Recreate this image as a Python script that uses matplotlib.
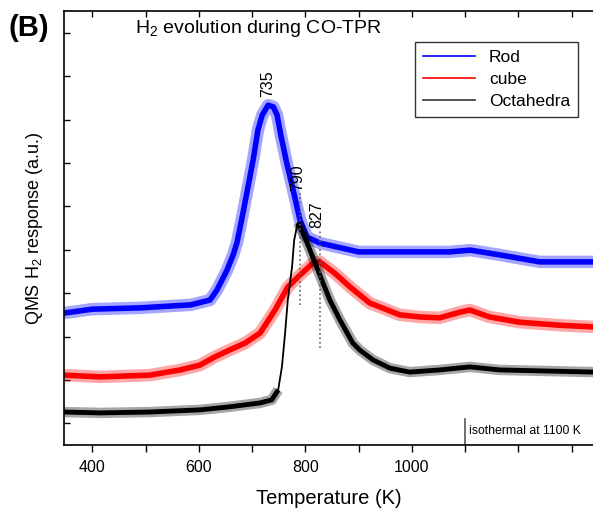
import numpy as np
import matplotlib
matplotlib.use('Agg')
import matplotlib.pyplot as plt
from matplotlib.lines import Line2D
from matplotlib.ticker import FixedLocator

plt.rcParams['font.family'] = ['Liberation Sans', 'DejaVu Sans']
plt.rcParams['mathtext.fontset'] = 'custom'
plt.rcParams['mathtext.rm'] = 'Liberation Sans'

# H2 signal (a.u.), offset per sample
rod_T = [347, 400, 490, 585, 621, 634, 653, 665, 672, 683, 702, 711, 719, 730, 740, 747, 754,
         765, 777, 790, 803, 828, 900, 1070, 1110, 1165, 1240, 1342]
rod_y = [2.54, 2.63, 2.66, 2.73, 2.84, 3.07, 3.53, 3.90, 4.18, 4.85, 6.07, 6.76, 7.10, 7.33, 7.29, 7.10, 6.64,
         6.00, 5.38, 4.68, 4.29, 4.15, 3.95, 3.95, 3.99, 3.88, 3.72, 3.72]

cube_T = [347, 415, 508, 565, 602, 630, 658, 687, 715, 743, 767, 786, 814, 827, 855,
          884, 921, 940, 977, 1015, 1052, 1090, 1109, 1146, 1202, 1277, 1342]
cube_y = [1.11, 1.07, 1.11, 1.23, 1.34, 1.53, 1.69, 1.85, 2.08, 2.61, 3.14, 3.37, 3.69, 3.72, 3.46,
          3.14, 2.77, 2.68, 2.50, 2.45, 2.43, 2.56, 2.61, 2.45, 2.33, 2.26, 2.22]

octa_T = [347, 415, 508, 602, 658, 715, 737, 749, 756, 762, 767, 775, 779, 784, 786,
          799, 814, 831, 846, 865, 889, 902, 927, 959, 996, 1052, 1109, 1165, 1342]
octa_y = [0.26, 0.24, 0.26, 0.31, 0.38, 0.47, 0.54, 0.77, 1.30, 2.08, 2.84, 3.60, 4.22, 4.52, 4.62,
          4.29, 3.83, 3.30, 2.84, 2.38, 1.85, 1.69, 1.46, 1.27, 1.18, 1.23, 1.30, 1.23, 1.18]

# peak labels: (label, x, y)
peaks = [('735', 730, 7.52), ('790', 785, 5.35), ('827', 821, 4.5)]

fig = plt.figure(figsize=(5.93, 5.09), dpi=100)
ax = fig.add_axes([0.108, 0.1257, 0.8938, 0.8527])


def noisy(x, y, color, core, halo):
    # soft halo + solid core to mimic the noise band of the raw signal
    ax.plot(x, y, '-', color=color, linewidth=halo, alpha=0.35, solid_joinstyle='round',
            solid_capstyle='butt')
    ax.plot(x, y, '-', color=color, linewidth=core, solid_joinstyle='round',
            solid_capstyle='butt')


noisy(rod_T, rod_y, '#0000ff', 4, 9)
noisy(cube_T, cube_y, '#ff0000', 4, 9)

# octahedra: thin where the signal jumps, band elsewhere
oT = np.array(octa_T, dtype=float)
oy = np.array(octa_y, dtype=float)
band = np.where((oT <= 749) | (oT >= 786), oy, np.nan)
ax.plot(oT, oy, '-', color='black', linewidth=1.3)
noisy(oT, band, 'black', 3.5, 7.5)

# dotted marker lines under 790 and 827
ax.plot([790, 790], [2.73, 5.31], ':', color='#666666', linewidth=1.2)
ax.plot([827, 827], [1.74, 4.45], ':', color='#666666', linewidth=1.2)
for lab, x, y in peaks:
    ax.text(x, y, lab, rotation=90, ha='center', va='bottom', fontsize=11.5)

# isothermal marker
ax.plot([1100, 1100], [-0.5, 0.1], '-', color='#555555', linewidth=1.2)
ax.text(1107, -0.18, 'isothermal at 1100 K', fontsize=8.8, va='center', ha='left')

ax.text(0.134, 0.96, r'H$_\mathregular{2}$ evolution during CO-TPR', transform=ax.transAxes,
        fontsize=14, va='center', ha='left')

ax.set_xlim(347, 1342)
ax.set_ylim(-0.5, 9.5)
ax.xaxis.set_major_locator(FixedLocator([400, 600, 800, 1000]))
ax.xaxis.set_minor_locator(FixedLocator([500, 700, 900, 1100, 1200, 1300]))
ax.set_yticks(range(10))
ax.set_yticklabels([])
ax.tick_params(axis='x', which='both', direction='out', length=5, width=1, labelsize=11.5, pad=6)
ax.tick_params(axis='x', which='both', top=True, labeltop=False)
ax.tick_params(axis='y', which='major', direction='in', length=4, width=1)
ax.spines['right'].set_visible(False)
for s in ['left', 'top', 'bottom']:
    ax.spines[s].set_linewidth(1.2)

# top ticks point inward
for t in ax.xaxis.get_major_ticks() + ax.xaxis.get_minor_ticks():
    t.tick2line.set_marker(3)
    t.tick2line.set_markersize(4)

ax.set_xlabel('Temperature (K)', fontsize=14.5, labelpad=10)
fig.text(0.059, 0.552, r'QMS H$_\mathregular{2}$ response (a.u.)', rotation=90,
         fontsize=13, va='center', ha='center')
fig.text(0.015, 0.945, '(B)', fontsize=21, fontweight='bold', va='center', ha='left')

handles = [Line2D([], [], color='#0000ff', lw=1.2),
           Line2D([], [], color='#ff0000', lw=1.2),
           Line2D([], [], color='#333333', lw=1.2)]
legend = ax.legend(handles, ['Rod', 'cube', 'Octahedra'], loc='upper right',
                   bbox_to_anchor=(0.970, 0.9286), borderaxespad=0, fontsize=12.5,
                   handlelength=3.0, labelspacing=0.4, borderpad=0.45, fancybox=False)
frame = legend.get_frame()
frame.set_edgecolor('black')
frame.set_linewidth(1)

fig.savefig('out.png', dpi=100)
